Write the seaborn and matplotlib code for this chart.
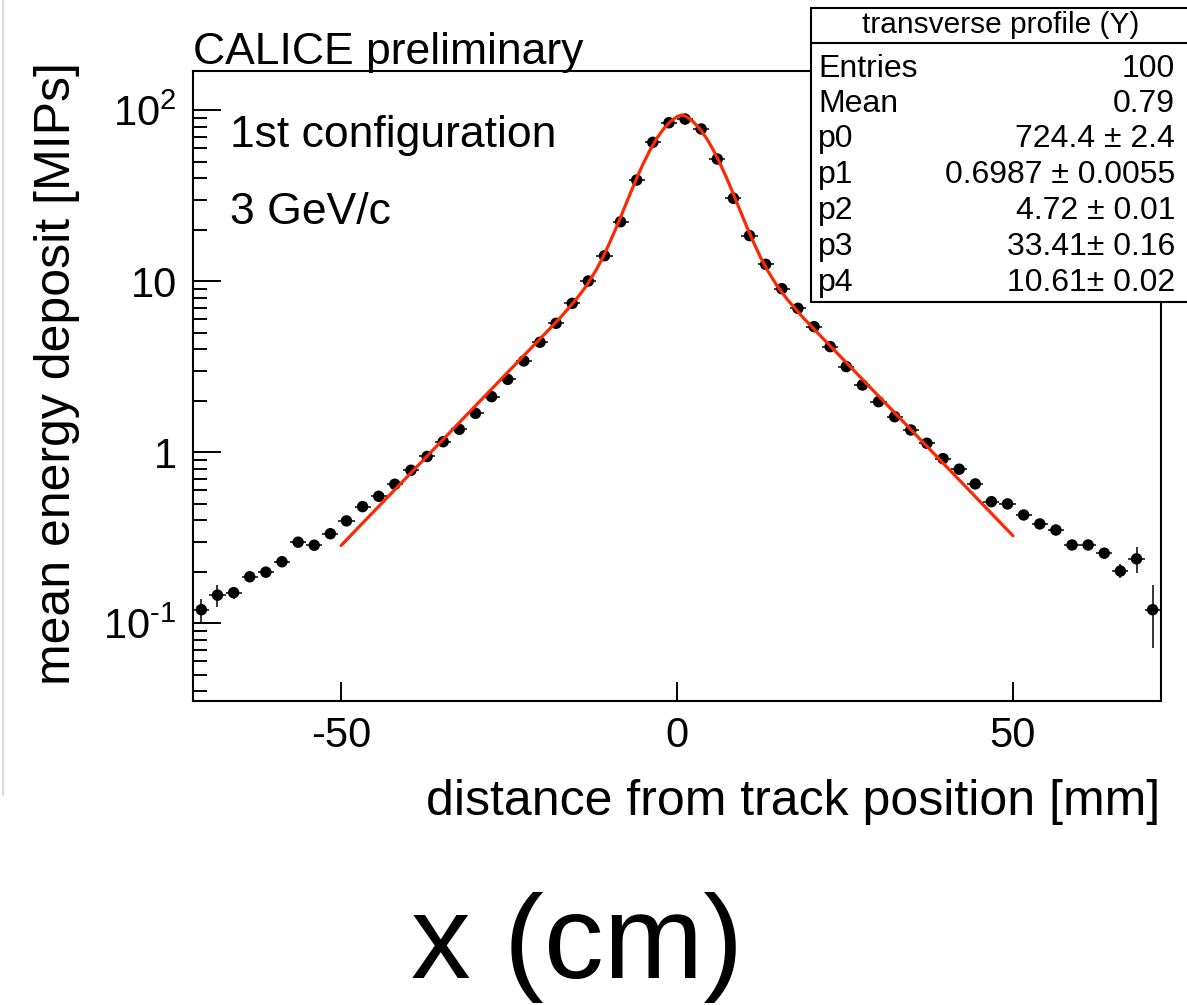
import matplotlib
matplotlib.use("Agg")
import matplotlib.pyplot as plt
import seaborn as sns
import pandas as pd
from matplotlib.patches import Rectangle
from matplotlib.lines import Line2D
from matplotlib.ticker import LogLocator, NullFormatter, FixedLocator

# ---------------- data ----------------
x_centers = [-70.8, -68.4, -66.0, -63.6, -61.2, -58.8, -56.4, -54.0, -51.6, -49.2,
             -46.8, -44.4, -42.0, -39.6, -37.2, -34.8, -32.4, -30.0, -27.6, -25.2,
             -22.8, -20.4, -18.0, -15.6, -13.2, -10.8, -8.4, -6.0, -3.6, -1.2,
             1.2, 3.6, 6.0, 8.4, 10.8, 13.2, 15.6, 18.0, 20.4, 22.8,
             25.2, 27.6, 30.0, 32.4, 34.8, 37.2, 39.6, 42.0, 44.4, 46.8,
             49.2, 51.6, 54.0, 56.4, 58.8, 61.2, 63.6, 66.0, 68.4, 70.8]
energy = [0.120, 0.146, 0.151, 0.187, 0.199, 0.229, 0.298, 0.286, 0.334, 0.397,
          0.481, 0.553, 0.650, 0.785, 0.945, 1.153, 1.363, 1.69, 2.115, 2.67,
          3.42, 4.40, 5.68, 7.43, 10.04, 14.1, 22.3, 39.1, 65.0, 84.6,
          88.9, 77.8, 51.9, 30.6, 18.5, 12.57, 9.05, 6.95, 5.43, 4.15,
          3.17, 2.475, 1.977, 1.615, 1.35, 1.129, 0.918, 0.796, 0.653, 0.514,
          0.499, 0.430, 0.381, 0.351, 0.287, 0.287, 0.257, 0.202, 0.238, 0.120]
energy_err = [0.019, 0.021, 0.013, 0.011, 0.009, 0.009, 0.010, 0.009, 0.009, 0.009,
              0.010, 0.011, 0.012, 0.013, 0.015, 0.017, 0.019, 0.022, 0.026, 0.031,
              0.037, 0.045, 0.055, 0.07, 0.09, 0.12, 0.18, 0.3, 0.45, 0.6,
              0.6, 0.55, 0.4, 0.25, 0.16, 0.11, 0.085, 0.07, 0.058, 0.047,
              0.038, 0.032, 0.027, 0.023, 0.02, 0.017, 0.015, 0.014, 0.012, 0.011,
              0.011, 0.010, 0.010, 0.010, 0.010, 0.011, 0.012, 0.019, 0.040, 0.048]
bin_half_width = 1.2

fit_x = [-50, -40, -30, -20, -17.5, -15, -13.5, -12, -11, -10, -9, -8, -7, -6, -5, -4,
         -3, -2, -1, 0, 0.7, 1.4, 2.4, 3.4, 4.4, 5.4, 6.4, 7.4, 8.4, 9.4, 10.4,
         11.4, 12.4, 13.4, 14.9, 16.4, 18.9, 21.4, 31.4, 41.4, 50]
fit_y = [0.285, 0.73, 1.87, 4.78, 6.05, 7.85, 9.4, 11.7, 13.9, 16.9, 20.8, 25.9, 32.3,
         40.1, 49.0, 58.7, 68.6, 77.9, 85.8, 91.8, 94.0, 91.8, 85.8, 77.9, 68.6,
         58.7, 49.0, 40.1, 32.3, 25.9, 20.8, 16.9, 13.9, 11.7, 9.4, 7.85, 6.05,
         4.78, 1.87, 0.73, 0.325]

x_ticks = [-50, 0, 50]
x_tick_labels = ["-50", "0", "50"]
y_ticks = [0.1, 1, 10, 100]
y_tick_labels = [r"$\mathregular{10^{\text{-}1}}$", "1", "10", r"$\mathregular{10^{2}}$"]

stats_title = "transverse profile (Y)"
stats_names = ["Entries", "Mean", "p0", "p1", "p2", "p3", "p4"]
stats_values = ["100", "0.79", "724.4 ± 2.4", "0.6987 ± 0.0055", "4.72 ± 0.01",
                "33.41± 0.16", "10.61± 0.02"]

# ---------------- style ----------------
sns.set_theme(style="white")
plt.rcParams["font.family"] = ["Liberation Sans", "DejaVu Sans"]
plt.rcParams["mathtext.fontset"] = "custom"
plt.rcParams["mathtext.rm"] = "Liberation Sans"
plt.rcParams["mathtext.it"] = "Liberation Sans:italic"
plt.rcParams["mathtext.bf"] = "Liberation Sans:bold"
plt.rcParams["text.color"] = "black"
plt.rcParams["axes.labelcolor"] = "black"
plt.rcParams["xtick.color"] = "black"
plt.rcParams["ytick.color"] = "black"

W, H = 1187, 1005
fig = plt.figure(figsize=(W / 100, H / 100), dpi=100)
fig.patch.set_facecolor("white")
L, R, T, B = 193.3, 1160.7, 70.7, 701.0
ax = fig.add_axes([L / W, 1 - B / H, (R - L) / W, (B - T) / H])
ax.set_facecolor("white")

df = pd.DataFrame({"x": x_centers, "y": energy, "err": energy_err})
fit_df = pd.DataFrame({"x": fit_x, "y": fit_y})

ax.errorbar(df["x"], df["y"], xerr=bin_half_width, yerr=df["err"], fmt="none",
            ecolor="black", elinewidth=1.1, capsize=0, zorder=2)
sns.scatterplot(data=df, x="x", y="y", color="black", s=68, edgecolor="none",
                linewidth=0, ax=ax, zorder=3, legend=False)
sns.lineplot(data=fit_df, x="x", y="y", color="#fa2a05", linewidth=2.3, sort=False,
             estimator=None, ax=ax, zorder=4, legend=False)

ax.set_yscale("log")
ax.set_xlim(-72, 72)
ax.set_ylim(0.0351, 170.5)
ax.set_xlabel("")
ax.set_ylabel("")

ax.xaxis.set_major_locator(FixedLocator(x_ticks))
ax.set_xticklabels(x_tick_labels)
ax.yaxis.set_major_locator(FixedLocator(y_ticks))
ax.set_yticklabels(y_tick_labels)
ax.yaxis.set_minor_locator(LogLocator(base=10, subs=[2, 3, 4, 5, 6, 7, 8, 9], numticks=20))
ax.yaxis.set_minor_formatter(NullFormatter())

ax.tick_params(axis="x", which="major", direction="in", length=14, width=1.4,
               bottom=True, top=False, labelsize=30, pad=11, colors="black")
ax.tick_params(axis="y", which="major", direction="in", length=20, width=1.4,
               left=True, right=False, labelsize=30, pad=12, colors="black")
ax.tick_params(axis="y", which="minor", direction="in", length=10, width=1.4,
               left=True, right=False)
ax.tick_params(axis="x", which="minor", bottom=False, top=False)
for sp in ax.spines.values():
    sp.set_visible(True)
    sp.set_color("black")
    sp.set_linewidth(1.5)

# ---------------- text ----------------
def fx(px):
    return px / W

def fy(py):
    return 1 - py / H

fig.text(fx(193), fy(64), "CALICE preliminary", fontsize=32, ha="left", va="baseline",
         color="black")
fig.text(fx(230), fy(147), "1st configuration", fontsize=32, ha="left", va="baseline",
         color="black")
fig.text(fx(230), fy(224), "3 GeV/c", fontsize=32, ha="left", va="baseline", color="black")

fig.text(fx(1160), fy(815), "distance from track position [mm]", fontsize=36,
         ha="right", va="baseline", color="black")
fig.text(fx(57), fy(62), "mean energy deposit [MIPs]", fontsize=36, rotation=90,
         ha="center", va="top", color="black")
fig.text(fx(577), fy(978), "x (cm)", fontsize=86, ha="center", va="baseline", color="black")

# faint page border on the far left
fig.add_artist(Line2D([fx(3), fx(3)], [fy(0), fy(795)], color="#d0d0d0", lw=1.2))

# stats box
box_l, box_r, box_t, box_b = 811, 1195, 8, 301.7
fig.add_artist(Rectangle((fx(box_l), fy(box_b)), (box_r - box_l) / W, (box_b - box_t) / H,
                         transform=fig.transFigure, facecolor="white", edgecolor="black",
                         lw=1.5, zorder=10))
fig.add_artist(Line2D([fx(box_l), fx(box_r)], [fy(43.3), fy(43.3)], color="black",
                      lw=1.5, zorder=11))
fig.text(fx(1001), fy(33), stats_title, fontsize=21.5, ha="center", va="baseline",
         zorder=12, color="black")
row_base = [76.7, 111.7, 146.7, 182.7, 218.5, 255.0, 290.7]
for name, val, yb in zip(stats_names, stats_values, row_base):
    fig.text(fx(818), fy(yb), name, fontsize=23, ha="left", va="baseline", zorder=12,
             color="black")
    fig.text(fx(1175), fy(yb), val, fontsize=23, ha="right", va="baseline", zorder=12,
             color="black")

fig.savefig("out.png", dpi=100, facecolor="white")
